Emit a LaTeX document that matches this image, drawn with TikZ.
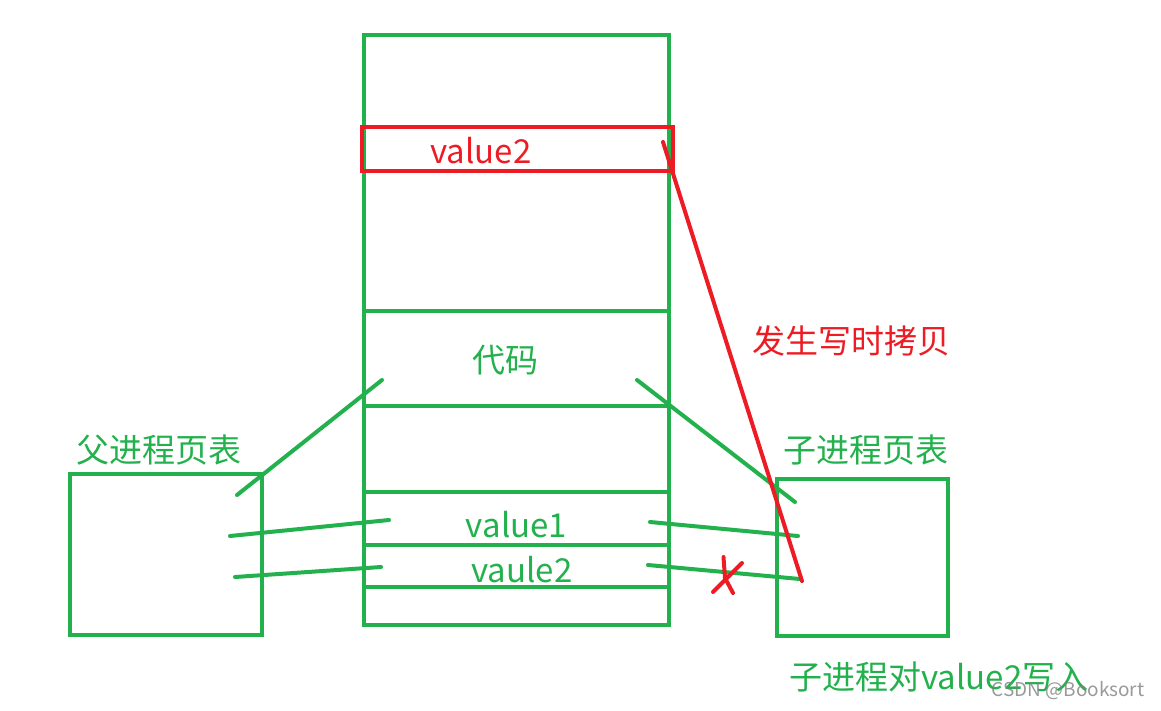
\documentclass[tikz,border=0pt]{standalone}
\usepackage{fontspec}
\newfontfamily\cjk{Noto Sans CJK SC}
\usetikzlibrary{positioning}
\definecolor{pgreen}{RGB}{34,177,76}
\definecolor{pred}{RGB}{237,28,36}
\tikzstyle{box} = [draw=pgreen, line width=4pt, rectangle, inner sep=0pt]
\tikzstyle{redbox} = [draw=pred, line width=4pt, rectangle, inner sep=0pt]
\tikzstyle{glabel} = [text=pgreen, font=\cjk\fontsize{33}{38}\selectfont, inner sep=0pt]
\tikzstyle{rlabel} = [text=pred, font=\cjk\fontsize{33}{38}\selectfont, inner sep=0pt]
\tikzstyle{row} = [draw=pgreen, line width=4pt]
\tikzstyle{link} = [draw=pgreen, line width=4pt, line cap=round]
\tikzstyle{redlink} = [draw=pred, line width=4pt, line cap=round]

\begin{document}
\begin{tikzpicture}[x=1pt, y=-1pt]
    \useasboundingbox (0,0) rectangle (1161,710);

    % memory
    \node[box, minimum width=305pt, minimum height=590pt] (mem) at (516.5,330) {};
    \draw[row] (mem.west |- 0,311) -- (mem.east |- 0,311);
    \draw[row] (mem.west |- 0,406) -- (mem.east |- 0,406);
    \draw[row] (mem.west |- 0,492) -- (mem.east |- 0,492);
    \draw[row] (mem.west |- 0,545) -- (mem.east |- 0,545);
    \draw[row] (mem.west |- 0,587) -- (mem.east |- 0,587);
    \node[redbox, minimum width=311pt, minimum height=44pt] (cow) at (517.5,149) {};

    % page tables
    \node[box, minimum width=192pt, minimum height=161pt] (ppt) at (166,554.5) {};
    \node[box, minimum width=171pt, minimum height=157pt] (cpt) at (862.5,557.5) {};

    % labels
    \node[rlabel, anchor=base] (v2new) at (481,163) {value2};
    \node[glabel] (code) at (505,360) {代码};
    \node[glabel, anchor=base] (v1) at (516.5,537) {value1};
    \node[glabel, anchor=base] (v2) at (522,582) {vaule2};
    \node[glabel] (pptlbl) at (159,450) {父进程页表};
    \node[glabel] (cptlbl) at (866,450) {子进程页表};
    \node[rlabel] (cowlbl) at (851,341) {发生写时拷贝};
    \node[glabel] (write) at (939,677) {子进程对value2写入};
    \node[font=\cjk\fontsize{19}{22}\selectfont, text=gray, opacity=0.8, inner sep=0pt] (mark) at (1068,691) {CSDN @Booksort};

    % parent mappings
    \coordinate (pa1) at (237,495);
    \coordinate (pb1) at (382,380);
    \coordinate (pa2) at (230,536);
    \coordinate (pb2) at (389,520);
    \coordinate (pa3) at (235,577);
    \coordinate (pb3) at (381,567);
    \draw[link] (pa1) -- (pb1);
    \draw[link] (pa2) -- (pb2);
    \draw[link] (pa3) -- (pb3);

    % child mappings
    \coordinate (ca1) at (795,502);
    \coordinate (cb1) at (637,380);
    \coordinate (ca2) at (798,536);
    \coordinate (cb2) at (650,522);
    \coordinate (ca3) at (800,579);
    \coordinate (cb3) at (648,565);
    \draw[link] (ca1) -- (cb1);
    \draw[link] (ca2) -- (cb2);
    \draw[link] (ca3) -- (cb3);

    % copy on write
    \coordinate (cowend) at (802,581);
    \coordinate (cowstart) at (663,142);
    \draw[redlink] (cowend) -- (cowstart);
    \coordinate (xa) at (723.5,557);
    \coordinate (xb) at (725,578);
    \coordinate (xc) at (733,593);
    \coordinate (xd) at (742,563);
    \coordinate (xe) at (713,592);
    \draw[redlink] (xa) -- (xb) -- (xc);
    \draw[redlink] (xd) -- (xe);
\end{tikzpicture}
\end{document}
